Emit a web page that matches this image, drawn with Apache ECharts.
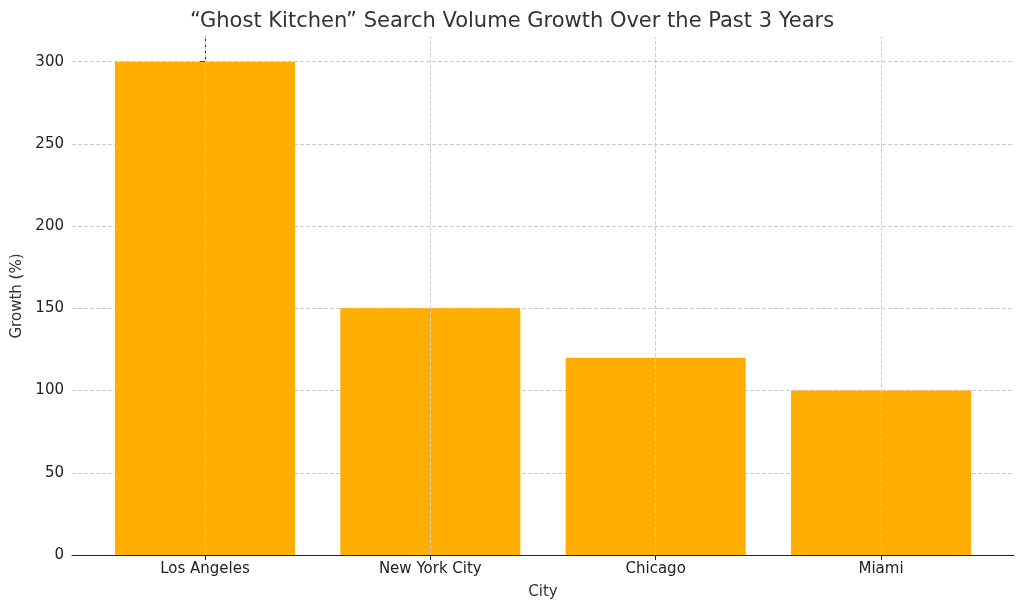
<!DOCTYPE html>
<html><head><meta charset="utf-8">
<script src="https://cdn.jsdelivr.net/npm/echarts@6/dist/echarts.min.js"></script>
<style>html,body{margin:0;padding:0;background:#fff}#c{width:1024px;height:611px}</style>
</head><body><div id="c"></div>
<script>
const categories = ["Los Angeles", "New York City", "Chicago", "Miami"];
const growth = [300, 150, 120, 100];
const yTicks = [0, 50, 100, 150, 200, 250, 300];

const idx = categories.map((_, i) => i);
const font = "DejaVu Sans";
const chart = echarts.init(document.getElementById('c'));
chart.setOption({
  animation: false,
  title: { text: '\u201cGhost Kitchen\u201d Search Volume Growth Over the Past 3 Years', left: 'center', top: 6,
    textStyle: { fontFamily: font, fontSize: 21, fontWeight: 'normal', color: '#333' } },
  grid: { left: 72, right: 10, top: 37, bottom: 56 },
  xAxis: {
    type: 'value', min: -0.59, max: 3.59,
    name: 'City', nameLocation: 'middle', nameGap: 30,
    nameTextStyle: { fontFamily: font, fontSize: 15, color: '#333' },
    axisLine: { show: true, lineStyle: { color: '#222' } },
    axisTick: { show: true, customValues: idx, length: 5, lineStyle: { color: '#222' } },
    axisLabel: { customValues: idx, formatter: v => categories[Math.round(v)] || '',
      fontFamily: font, fontSize: 15, color: '#222', margin: 7 },
    splitLine: { show: false }
  },
  yAxis: {
    type: 'value', min: 0, max: 315, interval: 50,
    name: 'Growth (%)', nameLocation: 'middle', nameGap: 46,
    nameTextStyle: { fontFamily: font, fontSize: 15, color: '#333' },
    axisLine: { show: true, lineStyle: { color: '#222' } },
    axisTick: { show: true, length: 5, customValues: yTicks, lineStyle: { color: '#222' } },
    axisLabel: { customValues: yTicks, fontFamily: font, fontSize: 15, color: '#222', margin: 8 },
    splitLine: { show: true, lineStyle: { type: 'dashed', color: ['#ccc','#ccc','#ccc','#ccc','#ccc','#ccc','#ccc','transparent'] } }
  },
  series: [{
    type: 'bar', barWidth: 180,
    data: growth.map((v, i) => [i, v]),
    itemStyle: { color: '#FFAE00' },
    markLine: { silent: true, symbol: 'none', label: { show: false },
      lineStyle: { type: 'dashed', color: '#ccc', width: 1 },
      data: idx.map(i => ({ xAxis: i })) }
  }]
});
</script></body></html>
